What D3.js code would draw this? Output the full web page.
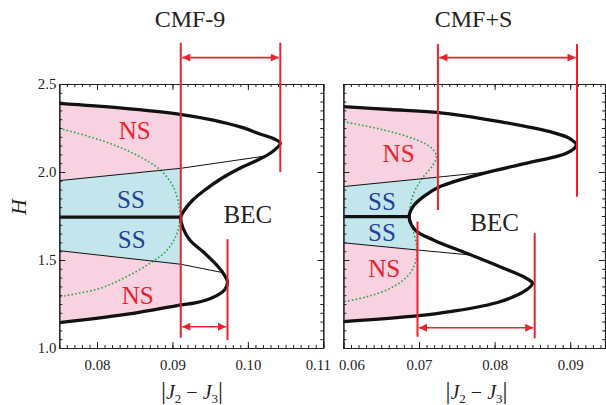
<!DOCTYPE html>
<html><head><meta charset="utf-8">
<script src="https://cdn.jsdelivr.net/npm/d3@7"></script>
<style>body{margin:0;background:#fff}svg{display:block}</style>
</head><body>
<svg id="c" width="606" height="405"></svg>
<script>
// ---------------- data ----------------
const panelTitles = ["CMF-9", "CMF+S"];
const xDomains = [[0.075, 0.11], [0.06, 0.0946]];
const yDomain = [1.0, 2.5];
const xTickValues = [[0.08, 0.09, 0.10, 0.11], [0.06, 0.07, 0.08, 0.09]];
const xTickLabels = [["0.08", "0.09", "0.10", "0.11"], ["0.06", "0.07", "0.08", "0.09"]];
const yTickValues = [1.0, 1.5, 2.0, 2.5];
const yTickLabels = ["1.0", "1.5", "2.0", "2.5"];

// thick BEC boundary (|J2-J3|, H), top to bottom
const cmf9Boundary = [[0.075,2.390],[0.083,2.364],[0.0910,2.328],[0.0954,2.295],[0.0990,2.256],[0.1016,2.216],[0.1035,2.188],[0.1043,2.163],
  [0.1032,2.114],[0.1013,2.068],[0.0990,2.023],[0.0966,1.966],[0.0943,1.898],[0.0927,1.841],[0.0916,1.784],[0.0911,1.741],
  [0.0914,1.682],[0.0923,1.614],[0.0941,1.545],[0.0956,1.483],[0.0968,1.420],[0.0973,1.375],[0.0969,1.330],[0.0952,1.284],
  [0.0930,1.256],[0.0910,1.244],[0.0848,1.197],[0.075,1.144]];
const cmfsBoundary = [[0.06,2.371],[0.0662,2.355],[0.0723,2.339],[0.0807,2.286],[0.0873,2.229],[0.0899,2.191],[0.0908,2.153],
  [0.0895,2.106],[0.0851,2.059],[0.0785,1.992],[0.0728,1.917],[0.0706,1.860],[0.0692,1.803],[0.0687,1.746],[0.0695,1.670],
  [0.0719,1.614],[0.0763,1.538],[0.0807,1.462],[0.0842,1.396],[0.0850,1.368],[0.0842,1.330],[0.0807,1.263],[0.0741,1.206],
  [0.0697,1.182],[0.06,1.150]];

// thin phase lines
const cmf9UpperThin = [[0.075,1.951],[0.0911,2.021],[0.1022,2.090]];
const cmf9LowerThin = [[0.075,1.553],[0.0911,1.476],[0.0967,1.428]];
const cmfsUpperThin = [[0.06,1.917],[0.0723,1.970],[0.0783,1.996]];
const cmfsLowerThin = [[0.06,1.598],[0.0697,1.557],[0.0769,1.528]];

// SS/SS boundary (thick horizontal)
const cmf9SSLine = [[0.075,1.744],[0.0911,1.744]];
const cmfsSSLine = [[0.06,1.746],[0.0688,1.746]];

// green dotted curves
const cmf9Dotted = [[0.075,2.248],[0.0804,2.182],[0.0848,2.106],[0.0884,2.011],[0.0901,1.917],[0.0909,1.803],[0.0910,1.740],
  [0.0906,1.652],[0.0893,1.557],[0.0870,1.481],[0.0839,1.405],[0.0804,1.339],[0.075,1.291]];
const cmfsDotted = [[0.06,2.286],[0.0653,2.239],[0.0697,2.182],[0.0717,2.135],[0.0723,2.087],[0.0717,2.030],[0.0706,1.974],
  [0.0695,1.898],[0.0689,1.822],[0.0688,1.746],[0.0692,1.670],[0.0697,1.576],[0.0696,1.500],[0.0688,1.424],[0.0666,1.348],
  [0.0631,1.291],[0.06,1.263]];

// fill clip positions [upper half, lower half]
const cmf9FillLimit = [0.0911, 0.0911];
const cmfsFillLimit = [0.0725, 0.0698];

// red markers: verticals [x, Hlow, Hhigh], arrows [x0, x1, H]
const cmf9Verticals = [[0.0911,1.058,2.735],[0.1043,2.0,2.735],[0.0973,1.045,1.618]];
const cmf9Arrows = [[0.0911,0.1043,2.650],[0.0911,0.0973,1.121]];
const cmfsVerticals = [[0.0725,1.784,2.727],[0.0909,1.860,2.727],[0.0698,1.064,1.718],[0.0853,1.055,1.652]];
const cmfsArrows = [[0.0725,0.0909,2.650],[0.0698,0.0853,1.115]];

// region labels [text, x, H, kind]
const cmf9Labels = [["NS",0.0850,2.233,"ns"],["SS",0.0845,1.841,"ss"],["SS",0.0846,1.614,"ss"],["NS",0.0854,1.301,"ns"],["BEC",0.1000,1.756,"bec"]];
const cmfsLabels = [["NS",0.0673,2.106,"ns"],["SS",0.0651,1.831,"ss"],["SS",0.0651,1.655,"ss"],["NS",0.0654,1.453,"ns"],["BEC",0.0800,1.714,"bec"]];

// ---------------- drawing ----------------
const panels = [
  {title: panelTitles[0], xd: xDomains[0], xr: [59.3, 323.3], boundary: cmf9Boundary, up: cmf9UpperThin, lo: cmf9LowerThin,
   ss: cmf9SSLine, dotted: cmf9Dotted, lim: cmf9FillLimit, verts: cmf9Verticals, arrows: cmf9Arrows, labels: cmf9Labels, yLabels: true},
  {title: panelTitles[1], xd: xDomains[1], xr: [343.4, 605], boundary: cmfsBoundary, up: cmfsUpperThin, lo: cmfsLowerThin,
   ss: cmfsSSLine, dotted: cmfsDotted, lim: cmfsFillLimit, verts: cmfsVerticals, arrows: cmfsArrows, labels: cmfsLabels, yLabels: false}
];
const FONT = "'Liberation Serif','Times New Roman',serif";
const RED = "#e8232d", PINK = "#f8d2e0", CYAN = "#c2e6eb", BLUE = "#233f9c", GREEN = "#23a648";
const svg = d3.select("#c");
const defs = svg.append("defs");
const y = d3.scaleLinear().domain(yDomain).range([348, 84]);

defs.append("marker").attr("id","ah").attr("viewBox","0 0 10 10").attr("refX",10).attr("refY",5)
  .attr("markerWidth",9).attr("markerHeight",8).attr("markerUnits","userSpaceOnUse").attr("orient","auto-start-reverse")
  .append("path").attr("d","M0,0 L10,5 L0,10 Z").attr("fill",RED);

panels.forEach((p, i) => {
  const x = d3.scaleLinear().domain(p.xd).range(p.xr);
  const g = svg.append("g");
  const smooth = d3.line().x(d => x(d[0])).y(d => y(d[1])).curve(d3.curveCatmullRom.alpha(0.5));
  const lin = d3.line().x(d => x(d[0])).y(d => y(d[1]));
  const xmin = p.xd[0], Hss = p.ss[0][1];

  // clip: region left of boundary
  defs.append("clipPath").attr("id","in"+i).append("path").attr("d", smooth(p.boundary) + "Z");
  defs.append("clipPath").attr("id","cu"+i).append("rect")
    .attr("x", x(xmin)).attr("y", 0).attr("width", x(p.lim[0]) - x(xmin)).attr("height", y(Hss)+0.5);
  defs.append("clipPath").attr("id","cl"+i).append("rect")
    .attr("x", x(xmin)).attr("y", y(Hss)-0.5).attr("width", x(p.lim[1]) - x(xmin)).attr("height", 405);

  const fills = g.append("g").attr("clip-path", `url(#in${i})`);
  const fu = fills.append("g").attr("clip-path", `url(#cu${i})`);
  const fl = fills.append("g").attr("clip-path", `url(#cl${i})`);
  const upEnd = p.up[p.up.length-1][0], loEnd = p.lo[p.lo.length-1][0];
  fu.append("path").attr("d", lin(p.up.concat([[upEnd, 3], [xmin - 0.01, 3], [xmin - 0.01, p.up[0][1]]])) + "Z").attr("fill", PINK);
  fu.append("path").attr("d", lin(p.up.concat([[upEnd, Hss], [xmin - 0.01, Hss], [xmin - 0.01, p.up[0][1]]])) + "Z").attr("fill", CYAN);
  fl.append("path").attr("d", lin(p.lo.concat([[loEnd, Hss], [xmin - 0.01, Hss], [xmin - 0.01, p.lo[0][1]]])) + "Z").attr("fill", CYAN);
  fl.append("path").attr("d", lin(p.lo.concat([[loEnd, 0.5], [xmin - 0.01, 0.5], [xmin - 0.01, p.lo[0][1]]])) + "Z").attr("fill", PINK);

  // dotted
  g.append("path").attr("d", smooth(p.dotted)).attr("fill","none").attr("stroke",GREEN).attr("stroke-width",1.6)
    .attr("stroke-dasharray","1.6,2.2");
  // thin lines
  [p.up, p.lo].forEach(l => g.append("path").attr("d", lin(l)).attr("fill","none").attr("stroke","#111").attr("stroke-width",1));
  // thick
  g.append("path").attr("d", smooth(p.boundary)).attr("fill","none").attr("stroke","#111").attr("stroke-width",3.3).attr("stroke-linejoin","round");
  g.append("path").attr("d", lin(p.ss)).attr("fill","none").attr("stroke","#111").attr("stroke-width",3.3);

  // axes
  const ax = g.append("g").attr("font-family", FONT);
  const minorX = d3.range(Math.ceil(p.xd[0]*1000 - 1e-6), Math.floor(p.xd[1]*1000 + 1e-6) + 1).map(k => k/1000);
  const minorY = d3.range(20, 51).map(k => k/20);
  const styleAxis = sel => { sel.selectAll("path.domain").attr("stroke","#222").attr("stroke-width",1.1);
    sel.selectAll(".tick line").attr("stroke","#222").attr("stroke-width",1);
    sel.selectAll("text").attr("font-family",FONT).attr("font-size",14.8).attr("fill","#222"); };
  ax.append("g").attr("transform","translate(0,348)")
    .call(d3.axisBottom(x).tickValues(minorX).tickSize(-3).tickSizeOuter(0).tickFormat("")).call(styleAxis);
  const bx = ax.append("g").attr("transform","translate(0,348)")
    .call(d3.axisBottom(x).tickValues(xTickValues[i]).tickSize(-6).tickSizeOuter(0).tickPadding(11)
      .tickFormat((d, k) => xTickLabels[i][k])).call(styleAxis);
  // nudge edge labels apart as in the reference
  bx.selectAll(".tick text").attr("dx", (d, k) => (i === 0 && k === 3) ? -5.5 : (i === 1 && k === 0) ? 8 : 0);
  ax.append("g").attr("transform","translate(0,84)")
    .call(d3.axisTop(x).tickValues(minorX).tickSize(-3).tickSizeOuter(0).tickFormat("")).call(styleAxis);
  ax.append("g").attr("transform","translate(0,84)")
    .call(d3.axisTop(x).tickValues(xTickValues[i]).tickSize(-6).tickSizeOuter(0).tickFormat("")).call(styleAxis);
  [[p.xr[0], d3.axisLeft], [p.xr[1], d3.axisRight]].forEach(([px, fn], side) => {
    ax.append("g").attr("transform",`translate(${px},0)`)
      .call(fn(y).tickValues(minorY).tickSize(-3).tickSizeOuter(0).tickFormat("")).call(styleAxis);
    ax.append("g").attr("transform",`translate(${px},0)`)
      .call(fn(y).tickValues(yTickValues).tickSize(-6).tickSizeOuter(0).tickPadding(3)
        .tickFormat((d, k) => (side === 0 && p.yLabels) ? yTickLabels[k] : "")).call(styleAxis);
  });

  // red markers
  p.verts.forEach(v => g.append("line").attr("x1", x(v[0])).attr("x2", x(v[0])).attr("y1", y(v[1])).attr("y2", y(v[2]))
    .attr("stroke", RED).attr("stroke-width", 2));
  p.arrows.forEach(a => g.append("line").attr("x1", x(a[0]) + 1.5).attr("x2", x(a[1]) - 1.5).attr("y1", y(a[2])).attr("y2", y(a[2]))
    .attr("stroke", RED).attr("stroke-width", 1.6).attr("marker-start","url(#ah)").attr("marker-end","url(#ah)"));

  // labels
  p.labels.forEach(l => g.append("text").attr("x", x(l[1])).attr("y", y(l[2])).attr("dy","0.34em")
    .attr("text-anchor","middle").attr("font-family",FONT).attr("font-size",25)
    .attr("fill", l[3] === "ns" ? RED : l[3] === "ss" ? BLUE : "#222").text(l[0]));

  // title
  g.append("text").attr("x", (i === 0 ? 190 : 473.5)).attr("y", 27).attr("text-anchor","middle")
    .attr("font-family",FONT).attr("font-size",24).attr("fill","#222").text(p.title);

  // x title |J2 - J3|
  const t = g.append("text").attr("x", (i === 0 ? 192 : 476.5)).attr("y", 399).attr("text-anchor","middle")
    .attr("font-family",FONT).attr("font-size",20).attr("fill","#222");
  t.append("tspan").attr("font-size",25).text("|");
  t.append("tspan").attr("font-style","italic").text("J");
  t.append("tspan").attr("font-size",13).attr("dy",4).text("2");
  t.append("tspan").attr("dy",-4).text(" − ");
  t.append("tspan").attr("font-style","italic").text("J");
  t.append("tspan").attr("font-size",13).attr("dy",4).text("3");
  t.append("tspan").attr("font-size",25).attr("dy",-4).text("|");
});

svg.append("text").attr("transform","translate(26,207) rotate(-90)").attr("text-anchor","middle")
  .attr("font-family",FONT).attr("font-style","italic").attr("font-size",22).attr("fill","#222").text("H");
</script>
</body></html>
